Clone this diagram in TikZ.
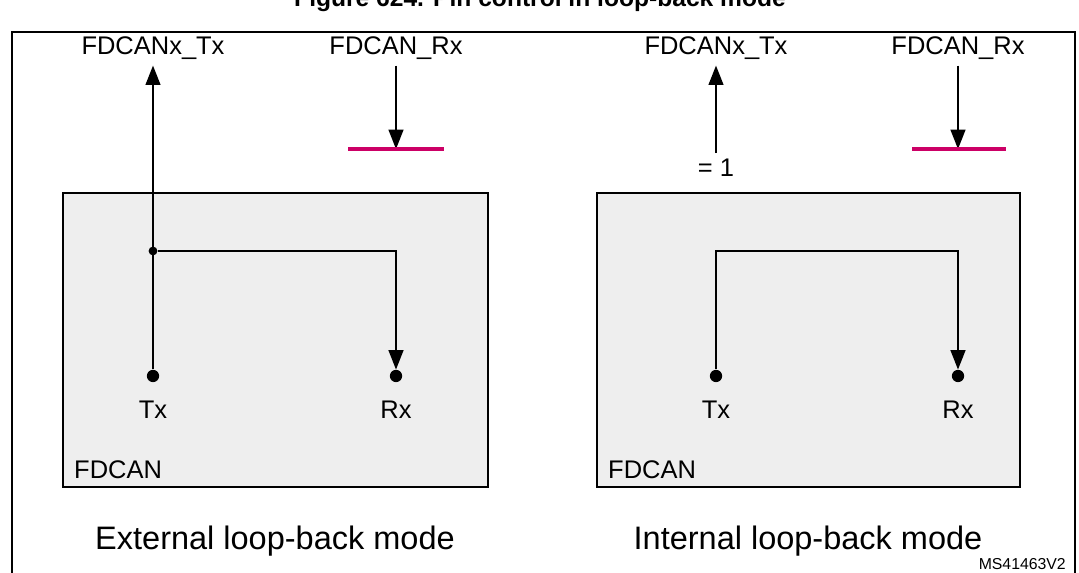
\documentclass[tikz,border=0pt]{standalone}
\usepackage{fontspec}
\setmainfont{Liberation Sans}
\usetikzlibrary{arrows.meta}
\definecolor{boxgray}{RGB}{238,238,238}
\definecolor{pinmag}{RGB}{204,0,102}
\begin{document}
\begin{tikzpicture}[x=0.02cm,y=-0.02cm,
  blk/.style={draw,fill=boxgray,line width=0.8pt},
  sig/.style={line width=0.8pt},
  arr/.style={sig,-{Triangle[length=11pt,width=8.5pt]}},
  pin/.style={circle,fill,inner sep=0pt,minimum size=7pt},
  lbl/.style={font=\fontsize{14.5}{16}\selectfont},
  modelbl/.style={font=\fontsize{18.5}{22}\selectfont},
  pad/.style={draw=pinmag,line width=2.2pt}]
\useasboundingbox (0,0) rectangle (1079,573);
\node[font=\bfseries\fontsize{14}{16}\selectfont] (title) at (540,0) {Figure 624. Pin control in loop-back mode};
\draw[line width=1.2pt] (12,600) -- (12,32) -- (1075,32) -- (1075,600);

%% External loop-back
\draw[blk] (63,193) rectangle (488,487);
\node[pin] (txA) at (153,376) {};
\node[pin] (rxA) at (396,376) {};
\node[pin,minimum size=5pt] (jA) at (153,251) {};
\node[lbl] (txoutA) at (153,48) {FDCANx\_Tx};
\node[lbl] (rxinA) at (396,48) {FDCAN\_Rx};
\coordinate (padAl) at (348,149);
\coordinate (padAr) at (444,149);
\coordinate (padA) at (396,149);
\draw[arr] (txA) -- (txoutA);
\draw[arr] (jA) -| (rxA);
\draw[arr] (rxinA) -- (padA);
\draw[pad] (padAl) -- (padAr);
\node[lbl] at (153,410) {Tx};
\node[lbl] at (396,410) {Rx};
\node[lbl,anchor=west] at (68,470) {FDCAN};
\node[modelbl] at (275,541) {External loop-back mode};

%% Internal loop-back
\draw[blk] (597,193) rectangle (1020,487);
\node[pin] (txB) at (716,376) {};
\node[pin] (rxB) at (958,376) {};
\node[lbl] (txoutB) at (716,48) {FDCANx\_Tx};
\node[lbl] (rxinB) at (958,48) {FDCAN\_Rx};
\node[lbl] (oneB) at (716,168) {= 1};
\coordinate (padBl) at (912,149);
\coordinate (padBr) at (1006,149);
\coordinate (padB) at (958,149);
\coordinate (turnB) at (716,251);
\draw[arr] (oneB) -- (txoutB);
\draw[arr] (txB) -- (turnB) -| (rxB);
\draw[arr] (rxinB) -- (padB);
\draw[pad] (padBl) -- (padBr);
\node[lbl] at (716,410) {Tx};
\node[lbl] at (958,410) {Rx};
\node[lbl,anchor=west] at (602,470) {FDCAN};
\node[modelbl] at (808,541) {Internal loop-back mode};

\node[font=\fontsize{9}{10}\selectfont,anchor=east] at (1072,564) {MS41463V2};
\end{tikzpicture}
\end{document}
